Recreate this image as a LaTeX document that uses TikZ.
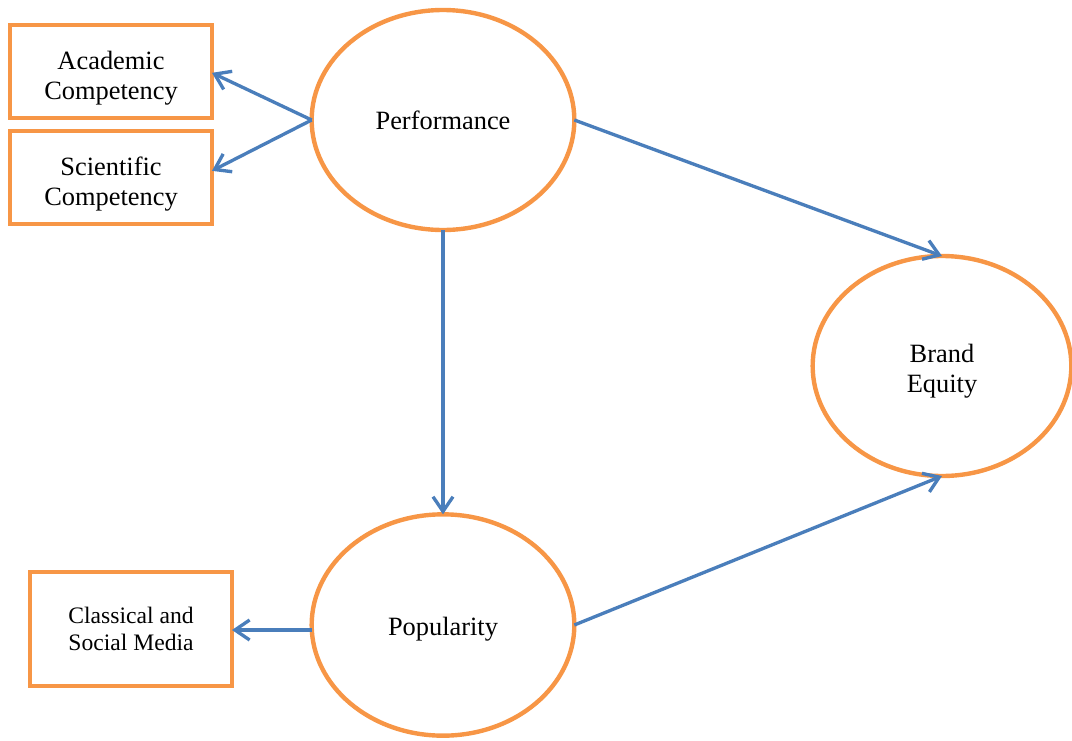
\documentclass[tikz,border=0pt]{standalone}
\usepackage{fontspec}
\setmainfont{Liberation Serif}
\usetikzlibrary{shapes.geometric,arrows.meta}
\definecolor{orng}{HTML}{F79646}
\definecolor{blu}{HTML}{4A7EBB}
\tikzset{
  construct/.style={ellipse,draw=orng,line width=3.3pt,inner sep=0pt,outer sep=0pt,align=center,
    font=\fontsize{19.8}{22.5}\selectfont},
  indicator/.style={rectangle,draw=orng,line width=3.3pt,inner sep=0pt,outer sep=0pt,align=center,
    minimum width=151.5pt},
  link/.style={draw=blu,line width=2.5pt,-{Straight Barb[length=11pt,width=15pt]}}
}
\begin{document}
\begin{tikzpicture}[x=0.75pt,y=-0.75pt]
\useasboundingbox (0,0) rectangle (1072,740);
\node[construct,minimum width=197pt,minimum height=165pt] (perf) at (443,120) {Performance};
\node[construct,minimum width=194pt,minimum height=165pt,text height=44pt] (brand) at (942,366) {Brand\\Equity};
\node[construct,minimum width=197pt,minimum height=166pt,text height=19.5pt] (pop) at (443,625) {Popularity};
\node[indicator,minimum height=70pt,font=\fontsize{19.8}{22.5}\selectfont,text height=46.5pt] (acad) at (111,71.5) {Academic\\Competency};
\node[indicator,minimum height=70pt,font=\fontsize{19.8}{22.5}\selectfont,text height=46.5pt] (sci) at (111,177.5) {Scientific\\Competency};
\node[indicator,minimum height=85.5pt,font=\fontsize{17.7}{20.2}\selectfont] (media) at (131,629) {Classical and\\Social Media};
\draw[link] (perf.west) -- ([yshift=-1pt]acad.east);
\draw[link] (perf.west) -- ([yshift=5pt]sci.east);
\draw[link] (perf.south) -- (pop.north);
\draw[link] (perf.east) -- (brand.north);
\draw[link] (pop.east) -- (brand.south);
\draw[link] ([yshift=-3.75pt]pop.west) -- ([yshift=-0.75pt]media.east);
\end{tikzpicture}
\end{document}
